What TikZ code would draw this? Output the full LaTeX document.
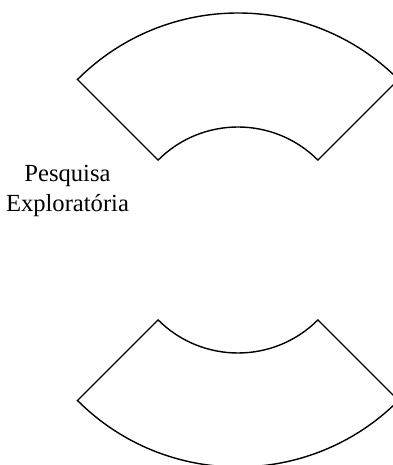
\documentclass[tikz,border=0pt]{standalone}
\usepackage{fontspec}
\setmainfont{Liberation Serif}
\definecolor{sectorborder}{HTML}{000000}
\tikzset{
  sector/.style={draw=sectorborder, line width=0.8pt, fill=white},
  phase-label/.style={font=\fontsize{14}{17}\selectfont, align=center}
}

\begin{document}
\begin{tikzpicture}

\clip (-4.76, -4.5) rectangle (3.1, 4.8);
\useasboundingbox (-4.76, -4.5) rectangle (3.1, 4.8);

% upper and lower sectors of the ring
\path[sector] (45:2.26) arc[start angle=45, end angle=135, radius=2.26]
  -- (135:4.54) arc[start angle=135, end angle=45, radius=4.54] -- cycle;
\path[sector] (225:2.26) arc[start angle=225, end angle=315, radius=2.26]
  -- (315:4.54) arc[start angle=315, end angle=225, radius=4.54] -- cycle;

\node[phase-label] (explore) at (-3.41, 0.98) {Pesquisa\\Exploratória};

\end{tikzpicture}
\end{document}
